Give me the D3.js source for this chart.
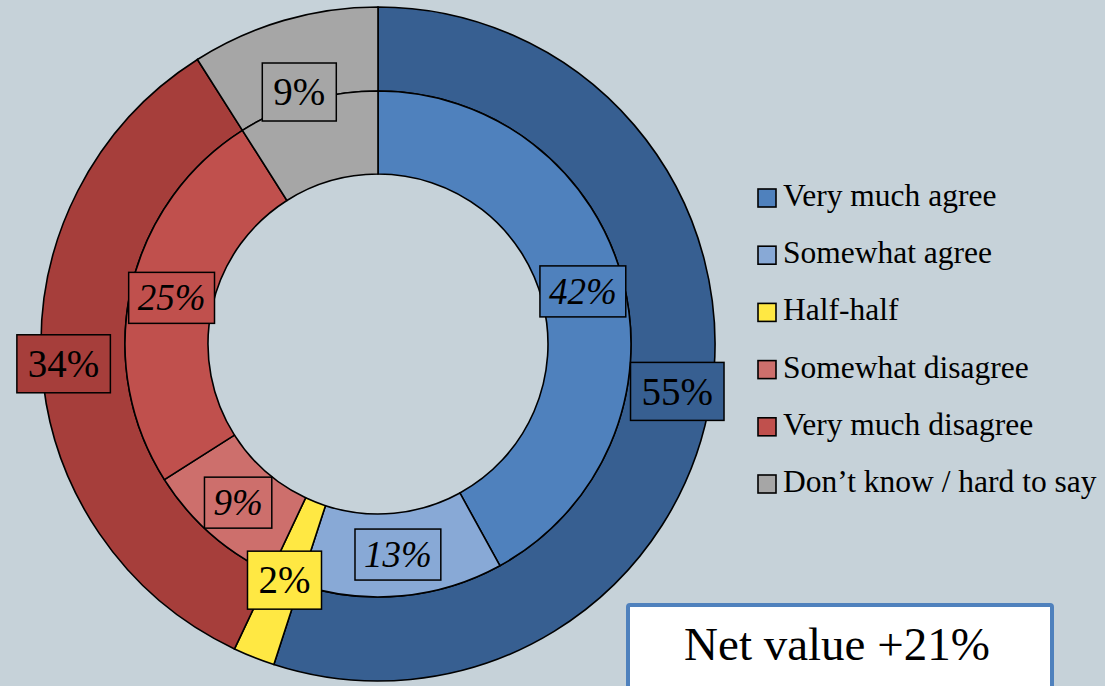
<!DOCTYPE html>
<html>
<head>
<meta charset="utf-8">
<script src="https://cdn.jsdelivr.net/npm/d3@7"></script>
<style>
  html, body { margin: 0; padding: 0; background: #c6d2d9; }
  svg { display: block; font-family: "Liberation Serif", "Times New Roman", serif; }
</style>
</head>
<body>
<div id="chart"></div>
<script>
// inner ring: detailed answers
var innerCats = ["Very much agree", "Somewhat agree", "Half-half", "Somewhat disagree", "Very much disagree", "Don\u2019t know / hard to say"];
var innerVals = [42, 13, 2, 9, 25, 9];
var innerShowLabel = [true, true, false, true, true, false];
// outer ring: grouped answers
var outerCats = ["Agree", "Half-half", "Disagree", "Don\u2019t know"];
var outerVals = [55, 2, 34, 9];
var netLabel = "Net value +21%";

var outwidth = 1105,
    outheight = 686;
var cx = 378, cy = 344;
var rHole = 170, rMid = 253, rOut = 337;
// excel "best fit" puts outer labels at different distances
var outerLabelR = [303, 254, 315, 264];

var innerColors = ["#4f81bd", "#88a9d6", "#ffe843", "#cd6f6c", "#c0504d", "#a6a6a6"];
var outerColors = ["#375f91", "#ffe843", "#a63e3b", "#a6a6a6"];

var svg = d3.select("#chart")
    .append("svg")
    .attr("width", outwidth)
    .attr("height", outheight);

svg.append("rect")
    .attr("width", outwidth)
    .attr("height", outheight)
    .attr("fill", "#c6d2d9");

var g = svg.append("g").attr("transform", `translate(${cx},${cy})`);

var pie = d3.pie().sort(null).value(d => d);
var outerArcs = pie(outerVals);
var innerArcs = pie(innerVals);

var arcOuter = d3.arc().innerRadius(rMid).outerRadius(rOut);
var arcInner = d3.arc().innerRadius(rHole).outerRadius(rMid);

g.selectAll(".outer-slice")
    .data(outerArcs)
    .join("path")
    .attr("class", "outer-slice")
    .attr("d", arcOuter)
    .attr("fill", (d, i) => outerColors[i])
    .attr("stroke", "#000")
    .attr("stroke-width", 1.6);

g.selectAll(".inner-slice")
    .data(innerArcs)
    .join("path")
    .attr("class", "inner-slice")
    .attr("d", arcInner)
    .attr("fill", (d, i) => innerColors[i])
    .attr("stroke", "#000")
    .attr("stroke-width", 1.6);

function polar(a, r) {
    return [Math.sin(a) * r, -Math.cos(a) * r];
}

// boxed value labels
function addLabel(pos, txt, fill, size, italic, padX, h) {
    var lg = g.append("g").attr("transform", `translate(${pos[0]},${pos[1]})`);
    var rect = lg.append("rect").attr("fill", fill).attr("stroke", "#000").attr("stroke-width", 1.5);
    var t = lg.append("text")
        .attr("text-anchor", "middle")
        .attr("dy", "0.34em")
        .style("font-size", size + "px")
        .style("font-style", italic ? "italic" : "normal")
        .attr("fill", "#000")
        .text(txt);
    var w = t.node().getComputedTextLength() + padX * 2;
    rect.attr("x", -w / 2).attr("y", -h / 2).attr("width", w).attr("height", h);
}

innerArcs.forEach(function (d, i) {
    if (!innerShowLabel[i]) return;
    var c = arcInner.centroid(d);
    addLabel(c, innerVals[i] + "%", innerColors[i], 37, true, 9, 51);
});

outerArcs.forEach(function (d, i) {
    var mid = (d.startAngle + d.endAngle) / 2 - (i === 3 ? 0.02 : 0);
    addLabel(polar(mid, outerLabelR[i]), outerVals[i] + "%", outerColors[i], 39, false, 11, 58);
});

// legend
var legend = svg.append("g").attr("transform", "translate(758,206)");
var rows = legend.selectAll(".leg")
    .data(innerCats)
    .join("g")
    .attr("class", "leg")
    .attr("transform", (d, i) => `translate(0,${i * 57.2})`);
rows.append("rect")
    .attr("x", 0).attr("y", -17)
    .attr("width", 18).attr("height", 18)
    .attr("fill", (d, i) => innerColors[i])
    .attr("stroke", "#000")
    .attr("stroke-width", 1.6);
rows.append("text")
    .attr("x", 25)
    .attr("y", 0)
    .style("font-size", "31.5px")
    .attr("fill", "#000")
    .text(d => d);

// net value box
svg.append("rect")
    .attr("x", 628).attr("y", 605)
    .attr("width", 424).attr("height", 100)
    .attr("rx", 2)
    .attr("fill", "#fff")
    .attr("stroke", "#4f81bd")
    .attr("stroke-width", 4);
svg.append("text")
    .attr("x", 837)
    .attr("y", 660)
    .attr("text-anchor", "middle")
    .style("font-size", "47px")
    .attr("fill", "#000")
    .text(netLabel);
</script>
</body>
</html>
